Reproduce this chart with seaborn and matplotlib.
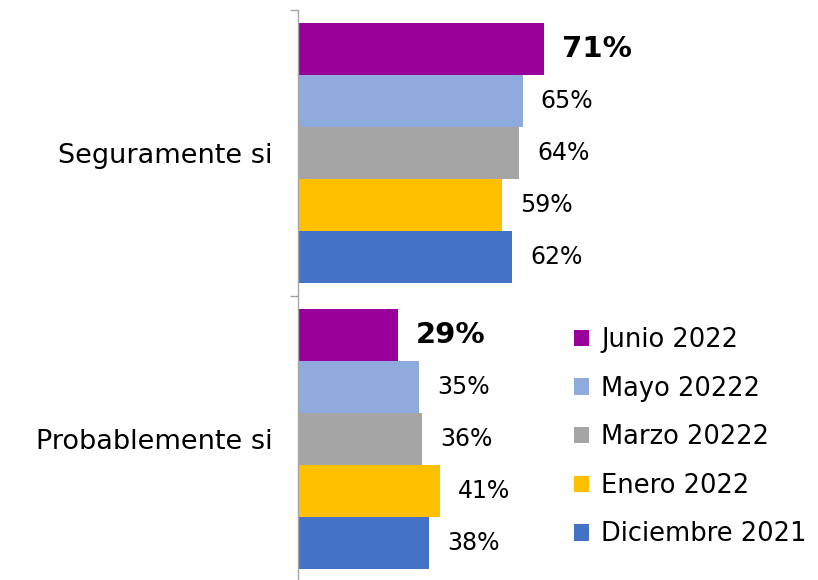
import pandas as pd
import matplotlib.pyplot as plt
import seaborn as sns
from matplotlib.patches import Patch

# Data
categorias = ['Seguramente si', 'Probablemente si']
periodos = ['Junio 2022', 'Mayo 20222', 'Marzo 20222', 'Enero 2022', 'Diciembre 2021']
seguramente = [71, 65, 64, 59, 62]
probablemente = [29, 35, 36, 41, 38]
colores = ['#990099', '#8FAADC', '#A5A5A5', '#FFC000', '#4472C4']

rows = []
for p, s, q in zip(periodos, seguramente, probablemente):
    rows.append({'Categoria': categorias[0], 'Periodo': p, 'Valor': s})
    rows.append({'Categoria': categorias[1], 'Periodo': p, 'Valor': q})
df = pd.DataFrame(rows)

sns.set_style('white')
plt.rcParams['font.family'] = ['DejaVu Sans']
plt.rcParams['text.color'] = 'black'
plt.rcParams['ytick.color'] = 'black'

fig = plt.figure(figsize=(8.18, 5.8), dpi=100)
ax = fig.add_axes([297.5 / 818, -2 / 580, 346.5 / 818, 572 / 580])

sns.barplot(data=df, y='Categoria', x='Valor', hue='Periodo', order=categorias,
            hue_order=periodos, palette=colores, orient='h', width=0.91,
            saturation=1, linewidth=0, ax=ax, legend=False)

ax.set_xlim(0, 100)
ax.set_ylim(1.5, -0.5)

# value labels, first series in bold
for i, cont in enumerate(ax.containers):
    if i == 0:
        ax.bar_label(cont, labels=[f'{v:.0f}%' for v in cont.datavalues],
                     padding=13, fontsize=21, fontweight='bold', color='black')
    else:
        ax.bar_label(cont, labels=[f'{v:.0f}%' for v in cont.datavalues],
                     padding=13, fontsize=17, color='black')

# axis styling
for side in ['top', 'right', 'bottom']:
    ax.spines[side].set_visible(False)
ax.spines['left'].set_color('#A6A6A6')
ax.spines['left'].set_linewidth(1)
ax.set_xticks([])
ax.set_xlabel('')
ax.set_ylabel('')
ax.set_yticks([0, 1])
ax.set_yticklabels(categorias, fontsize=19.5, color='black')
ax.set_yticks([-0.5, 0.5, 1.5], minor=True)
ax.tick_params(axis='y', which='major', length=0, pad=18)
ax.tick_params(axis='y', which='minor', length=6, color='#A6A6A6', width=1, left=True)

handles = [Patch(facecolor=c, edgecolor='none') for c in colores]
fig.legend(handles, periodos, loc='upper left', bbox_to_anchor=(574 / 818, 1 - 327 / 580),
           frameon=False, fontsize=18.5, handlelength=0.6, handleheight=0.6,
           handletextpad=0.45, labelspacing=0.88, borderaxespad=0, borderpad=0)

fig.savefig('out.png', dpi=100)
